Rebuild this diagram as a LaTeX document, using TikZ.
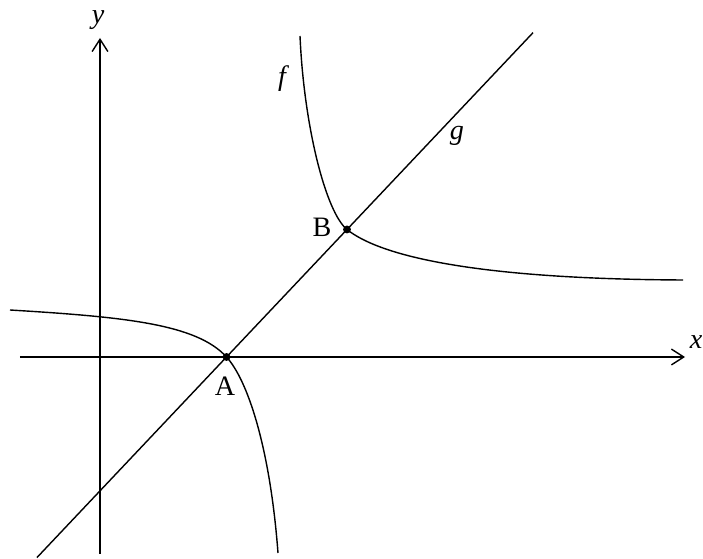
\documentclass[tikz,border=0pt]{standalone}
\usepackage{fontspec}
\setmainfont{Liberation Serif}
\usetikzlibrary{arrows.meta,calc}

\begin{document}
\begin{tikzpicture}[line width=0.8pt, every node/.style={font=\fontsize{16}{18}\selectfont},
  axis/.style={-{Straight Barb[length=7pt,width=9pt]}},
  lbl/.style={font=\fontsize{16}{18}\selectfont\itshape},
  pt/.style={circle, fill, inner sep=0pt, minimum size=4.5pt}]
\useasboundingbox (-2,-4.04) rectangle (12.06,7.14);
% axes
\coordinate (xl) at (-1.6,0);
\coordinate (xr) at (11.7,0);
\coordinate (yb) at (0,-3.94);
\coordinate (yt) at (0,6.38);
\draw[axis] (xl) -- (xr);
\draw[axis] (yb) -- (yt);
\node[lbl] (xlab) at (11.92,0.3) {x};
\node[lbl] (ylab) at (-0.04,6.74) {y};
% intersection points
\coordinate (A) at (2.53,0);
\coordinate (B) at (4.94,2.55);
% g
\coordinate (g1) at ($(A)!-1.573!(B)$);
\coordinate (g2) at ($(A)!2.544!(B)$);
\draw (g1) -- (g2);
\node[lbl] (glab) at (7.14,4.42) {g};
% f, two branches
\coordinate (f1) at (4.0,6.42);
\coordinate (f2) at (11.66,1.54);
\coordinate (f3) at (-1.8,0.94);
\coordinate (f4) at (3.56,-3.92);
\draw (f1) .. controls (4.08,4.6) and (4.52,2.89) .. (B)
           .. controls (5.6,2.02) and (7.5,1.56) .. (f2);
\draw (f3) .. controls (0.5,0.8) and (1.93,0.66) .. (A)
           .. controls (2.95,-0.46) and (3.4,-1.8) .. (f4);
\node[lbl] (flab) at (3.64,5.56) {f};
% points
\node[pt] (pA) at (A) {};
\node[pt] (pB) at (B) {};
\node (Alab) at (2.5,-0.58) {A};
\node (Blab) at (4.44,2.6) {B};
\end{tikzpicture}
\end{document}
